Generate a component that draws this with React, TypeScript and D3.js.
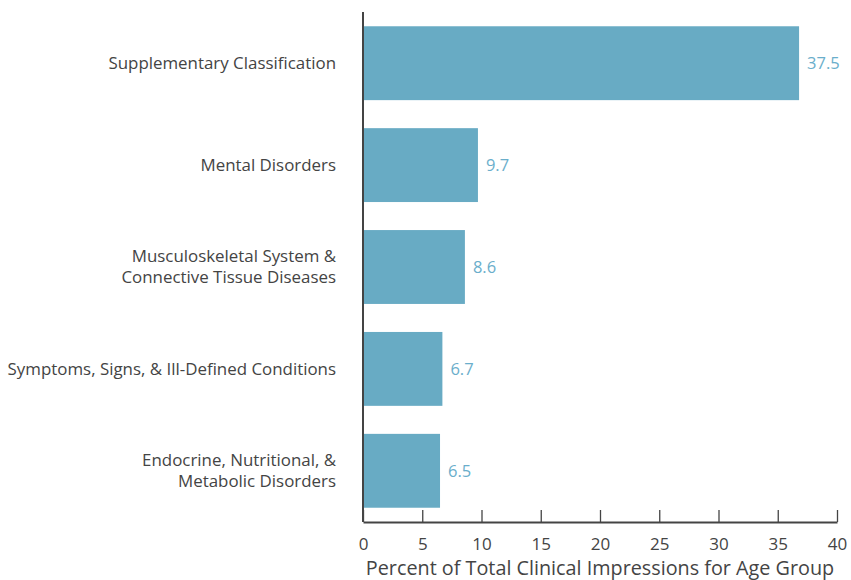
import React, { useRef, useEffect } from "react";
import * as d3 from "d3";

// categories (top to bottom), each label split into lines
const categories: string[][] = [
  ["Supplementary Classification"],
  ["Mental Disorders"],
  ["Musculoskeletal System &", "Connective Tissue Diseases"],
  ["Symptoms, Signs, & Ill-Defined Conditions"],
  ["Endocrine, Nutritional, &", "Metabolic Disorders"],
];
// bar lengths as drawn in the picture
const values: number[] = [36.8, 9.7, 8.6, 6.7, 6.5];
// value labels as printed
const valueLabels: string[] = ["37.5", "9.7", "8.6", "6.7", "6.5"];
const xTicks: number[] = [0, 5, 10, 15, 20, 25, 30, 35, 40];
const xTitle = "Percent of Total Clinical Impressions for Age Group";

const FONT = "'Open Sans', sans-serif";
const BAR = "#68abc4";
const INK = "#444444";

export default function App() {
  const svgRef = useRef<SVGSVGElement | null>(null);

  useEffect(() => {
    const W = 851;
    const H = 580;
    const margin = { top: 12, right: 14, bottom: 58, left: 363 };
    const width = W - margin.left - margin.right;
    const height = H - margin.top - margin.bottom;

    const svgEl = d3.select(svgRef.current);
    svgEl.selectAll("*").remove();
    svgEl.attr("width", W).attr("height", H);

    const svg = svgEl
      .append("g")
      .attr("transform", `translate(${margin.left},${margin.top})`);

    const x = d3.scaleLinear().domain([0, 40]).range([0, width]);
    const y = d3
      .scaleBand<number>()
      .domain(d3.range(categories.length))
      .range([0, height])
      .paddingInner(0.275)
      .paddingOuter(0.14);

    // bars
    svg
      .selectAll("rect.bar")
      .data(values)
      .join("rect")
      .attr("class", "bar")
      .attr("x", 0)
      .attr("y", (_, i) => y(i)!)
      .attr("width", (d) => x(d))
      .attr("height", y.bandwidth())
      .attr("fill", BAR);

    // value labels
    svg
      .selectAll("text.val")
      .data(values)
      .join("text")
      .attr("class", "val")
      .attr("x", (d) => x(d) + 8)
      .attr("y", (_, i) => y(i)! + y.bandwidth() / 2)
      .attr("dy", "0.35em")
      .attr("fill", "#6aaecb")
      .style("font-family", FONT)
      .style("font-size", "16.5px")
      .text((_, i) => valueLabels[i]);

    // category labels
    const cat = svg
      .selectAll("text.cat")
      .data(categories)
      .join("text")
      .attr("class", "cat")
      .attr("text-anchor", "end")
      .attr("fill", INK)
      .style("font-family", FONT)
      .style("font-size", "16.9px")
      .attr("transform", (_, i) => `translate(-27,${y(i)! + y.bandwidth() / 2})`);
    cat
      .selectAll("tspan")
      .data((d) => d.map((t, j) => ({ t, j, n: d.length })))
      .join("tspan")
      .attr("x", 0)
      .attr("y", (d) => (d.j - (d.n - 1) / 2) * 21)
      .attr("dy", "0.35em")
      .text((d) => d.t);

    // x axis
    const xAxis = svg
      .append("g")
      .attr("transform", `translate(0,${height})`)
      .call(
        d3
          .axisBottom(x)
          .tickValues(xTicks)
          .tickSize(-12)
          .tickSizeOuter(0)
          .tickPadding(10)
      );
    xAxis.select(".domain").attr("stroke", INK).attr("stroke-width", 2);
    xAxis.selectAll(".tick line").attr("stroke", INK).attr("stroke-width", 1.3);
    xAxis
      .selectAll(".tick text")
      .attr("fill", INK)
      .attr("y", 16)
      .style("font-family", FONT)
      .style("font-size", "17px");

    // y axis line
    svg
      .append("line")
      .attr("x1", 0)
      .attr("x2", 0)
      .attr("y1", 0)
      .attr("y2", height)
      .attr("stroke", INK)
      .attr("stroke-width", 2);

    // x title
    svg
      .append("text")
      .attr("x", width / 2)
      .attr("y", height + 53)
      .attr("text-anchor", "middle")
      .attr("fill", INK)
      .style("font-family", FONT)
      .style("font-size", "19.8px")
      .text(xTitle);
  }, []);

  return (
    <div style={{ position: "absolute", left: 0, top: 0 }}>
      <svg ref={svgRef} style={{ display: "block" }} />
    </div>
  );
}
